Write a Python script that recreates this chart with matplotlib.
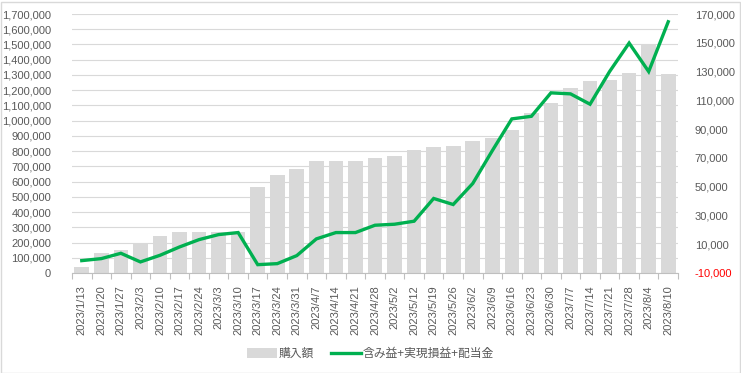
import matplotlib
matplotlib.use("Agg")
import matplotlib.pyplot as plt
from matplotlib.ticker import FuncFormatter, MultipleLocator, FixedLocator
from matplotlib.patches import Rectangle

plt.rcParams['font.family'] = ['Liberation Sans', 'Noto Sans CJK JP', 'DejaVu Sans']

dates = ["2023/1/13", "2023/1/20", "2023/1/27", "2023/2/3", "2023/2/10", "2023/2/17",
         "2023/2/24", "2023/3/3", "2023/3/10", "2023/3/17", "2023/3/24", "2023/3/31",
         "2023/4/7", "2023/4/14", "2023/4/21", "2023/4/28", "2023/5/2", "2023/5/12",
         "2023/5/19", "2023/5/26", "2023/6/2", "2023/6/9", "2023/6/16", "2023/6/23",
         "2023/6/30", "2023/7/7", "2023/7/14", "2023/7/21", "2023/7/28", "2023/8/4",
         "2023/8/10"]

# 購入額 (left axis)
purchase = [42000, 133000, 153000, 200000, 245000, 271000, 271000, 271000, 271000,
            567000, 645000, 685000, 737000, 737000, 737000, 755000, 770000, 810000,
            829000, 836000, 869000, 888000, 941000, 1048000, 1118000, 1217000,
            1263000, 1269000, 1315000, 1497000, 1309000]

# 含み益+実現損益+配当金 (right axis)
profit = [-1400, 0, 3700, -2300, 2300, 8100, 13200, 16700, 18100, -4200, -3500, 2100,
          13700, 18100, 18100, 23200, 23900, 26000, 41800, 37600, 52200, 75000, 97100,
          98900, 115200, 114500, 107300, 130000, 149800, 130000, 164600]

label_bar = "購入額"
label_line = "含み益+実現損益+配当金"

txt = "#595959"
grid = "#d9d9d9"

fig = plt.figure(figsize=(7.41, 3.73), dpi=100)
ax = fig.add_axes([72/741, 100/373, 606/741, 259/373])
ax2 = ax.twinx()

x = list(range(len(dates)))
ax.bar(x, purchase, width=0.75, color="#d9d9d9", zorder=2, label=label_bar)
ax2.plot(x, profit, color="#00b050", lw=2.4, zorder=3, label=label_line,
         solid_joinstyle="miter")

ax.set_xlim(-0.5, len(dates) - 0.5)
ax.set_ylim(0, 1700000)
ax2.set_ylim(-10000, 170000)

ax.yaxis.set_major_locator(MultipleLocator(100000))
ax.yaxis.set_major_formatter(FuncFormatter(lambda v, p: f"{int(v):,}"))
ax2.yaxis.set_major_locator(FixedLocator(list(range(-10000, 170001, 20000))))
ax2.yaxis.set_major_formatter(FuncFormatter(lambda v, p: f"{int(v):,}"))
ax.grid(axis="y", color=grid, lw=0.8, zorder=0)
ax.set_axisbelow(True)

ax.set_xticks(x)
ax.set_xticklabels(dates, rotation=90, va="top", ha="center")
ax.set_xticks([i - 0.5 for i in range(len(dates) + 1)], minor=True)
ax.tick_params(axis="x", which="major", length=0, pad=9, labelsize=8, labelcolor=txt)
ax.tick_params(axis="x", which="minor", length=4, color="#bfbfbf", width=0.8)
ax.tick_params(axis="y", length=0, pad=15, labelsize=8, labelcolor=txt)
ax2.tick_params(axis="y", length=0, pad=12, labelsize=8, labelcolor=txt)

for s in ["top", "left", "right"]:
    ax.spines[s].set_visible(False)
    ax2.spines[s].set_visible(False)
ax.spines["bottom"].set_color("#bfbfbf")
ax.spines["bottom"].set_linewidth(0.8)
ax2.spines["bottom"].set_visible(False)

fig.canvas.draw()
for t in ax2.get_yticklabels():
    if t.get_text().startswith("-"):
        t.set_color("red")

h1, l1 = ax.get_legend_handles_labels()
h2, l2 = ax2.get_legend_handles_labels()
fig.legend(h1 + h2, l1 + l2, loc="center", bbox_to_anchor=(0.5, 1 - 354/373),
           ncol=2, frameon=False, fontsize=8.5, labelcolor=txt,
           handlelength=2.5, handleheight=0.9, handletextpad=0.15, columnspacing=1.5)

fig.patches.append(Rectangle((0.5/741, 0.5/373), 739.5/741, 371/373,
                             transform=fig.transFigure, fill=False,
                             edgecolor="#d9d9d9", lw=1))

fig.savefig("out.png", dpi=100)
